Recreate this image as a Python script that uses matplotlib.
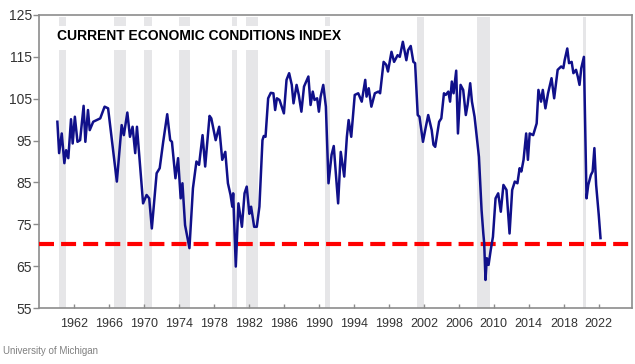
import matplotlib
matplotlib.use("Agg")
import matplotlib.pyplot as plt

# ==========================
# Data
# ==========================

years = [
    1960.1, 1960.3, 1960.6, 1960.9, 1961.1, 1961.35, 1961.66, 1961.85, 1962.1, 1962.4,
    1962.7, 1963.1, 1963.3, 1963.6, 1963.8, 1964.2, 1965.0, 1965.5, 1965.9, 1966.9,
    1967.45, 1967.7, 1968.1, 1968.4, 1968.7, 1969.0, 1969.2, 1969.9, 1970.3, 1970.6,
    1970.9, 1971.45, 1971.8, 1972.2, 1972.66, 1973.0, 1973.2, 1973.6, 1973.9, 1974.2,
    1974.4, 1974.7, 1975.2, 1975.6, 1976.0, 1976.3, 1976.7, 1977.0, 1977.5, 1977.7,
    1978.2, 1978.6, 1978.95, 1979.3, 1979.6, 1979.9, 1980.1, 1980.2, 1980.5, 1980.8,
    1981.2, 1981.5, 1981.75, 1982.05, 1982.25, 1982.6, 1982.9, 1983.2, 1983.55, 1983.7,
    1983.9, 1984.2, 1984.5, 1984.8, 1985.0, 1985.2, 1985.5, 1986.0, 1986.3, 1986.6,
    1986.9, 1987.1, 1987.45, 1987.7, 1988.0, 1988.3, 1988.8, 1989.05, 1989.3, 1989.5,
    1989.8, 1990.0, 1990.2, 1990.5, 1990.8, 1991.1, 1991.45, 1991.7, 1992.2, 1992.5,
    1992.9, 1993.2, 1993.4, 1993.7, 1994.1, 1994.5, 1994.9, 1995.3, 1995.45, 1995.7,
    1996.0, 1996.4, 1996.8, 1997.0, 1997.4, 1997.7, 1997.9, 1998.3, 1998.6, 1999.0,
    1999.25, 1999.6, 2000.0, 2000.2, 2000.5, 2000.8, 2001.0, 2001.3, 2001.5, 2001.9,
    2002.2, 2002.5, 2002.9, 2003.1, 2003.3, 2003.75, 2004.0, 2004.3, 2004.5, 2004.8,
    2005.0, 2005.2, 2005.4, 2005.7, 2005.9, 2006.2, 2006.5, 2006.8, 2007.0, 2007.3,
    2007.5, 2007.8, 2008.3, 2008.6, 2008.8, 2008.9, 2009.05, 2009.2, 2009.4, 2009.65,
    2009.9, 2010.2, 2010.5, 2010.8, 2011.1, 2011.45, 2011.8, 2012.1, 2012.4, 2012.7,
    2012.95, 2013.15, 2013.4, 2013.7, 2013.9, 2014.1, 2014.5, 2014.9, 2015.1, 2015.4,
    2015.6, 2015.9, 2016.2, 2016.6, 2016.9, 2017.3, 2017.7, 2017.95, 2018.1, 2018.4,
    2018.6, 2018.9, 2019.1, 2019.4, 2019.6, 2019.8, 2020.0, 2020.3, 2020.6, 2020.8,
    2021.1, 2021.3, 2021.5, 2021.7, 2022.0, 2022.2,
]

index_values = [
    99.5, 92.0, 96.7, 89.6, 92.7, 90.8, 100.1, 94.3, 100.7, 94.7,
    95.1, 103.3, 94.7, 102.3, 97.5, 99.5, 100.3, 103.1, 102.7, 85.2,
    98.7, 96.3, 101.7, 95.9, 98.3, 92.0, 98.3, 80.0, 82.0, 81.2,
    74.0, 87.2, 88.4, 94.7, 101.3, 95.1, 94.7, 86.0, 90.8, 81.2,
    84.8, 74.8, 69.3, 83.6, 90.0, 89.2, 96.3, 88.8, 100.9, 100.3,
    95.1, 98.3, 90.4, 92.3, 84.8, 82.0, 79.2, 82.4, 64.9, 80.0,
    74.4, 82.4, 84.0, 77.5, 79.2, 74.4, 74.4, 79.2, 95.1, 96.1,
    95.9, 105.1, 106.4, 106.3, 102.3, 105.1, 104.7, 101.5, 109.5, 111.1,
    108.3, 103.9, 108.3, 105.9, 101.9, 107.9, 110.3, 103.5, 106.7, 104.7,
    105.1, 101.9, 105.5, 108.3, 103.1, 84.8, 91.6, 93.7, 80.0, 92.3,
    86.4, 95.9, 99.9, 95.9, 105.9, 106.3, 104.3, 109.5, 105.5, 107.5,
    103.1, 106.3, 106.7, 106.3, 113.8, 113.1, 111.5, 116.2, 113.8, 115.4,
    115.0, 118.6, 114.2, 116.6, 117.6, 113.8, 113.5, 101.1, 100.7, 94.7,
    98.0, 101.1, 97.5, 94.0, 93.5, 99.5, 100.3, 106.3, 105.9, 106.7,
    104.3, 109.1, 106.3, 111.7, 96.7, 108.3, 107.1, 101.1, 103.5, 108.7,
    104.3, 100.7, 91.1, 78.4, 72.8, 70.5, 61.7, 66.9, 65.3, 68.9,
    72.0, 81.2, 82.4, 78.0, 84.4, 83.2, 72.8, 83.2, 85.2, 84.8,
    88.4, 87.6, 90.4, 96.7, 90.4, 96.7, 96.3, 99.1, 107.1, 104.3,
    107.1, 102.7, 106.3, 109.9, 105.1, 111.9, 112.7, 112.3, 114.2, 117.0,
    113.5, 113.8, 111.1, 111.9, 110.3, 108.3, 112.3, 115.0, 81.2, 84.4,
    86.8, 87.6, 93.2, 84.4, 77.2, 71.7,
]

# recession shading (start, end)
recessions = [
    (1960.3, 1961.1), (1966.6, 1967.9), (1970.0, 1970.9), (1974.0, 1975.3),
    (1980.1, 1980.6), (1981.7, 1983.0), (1990.7, 1991.3), (2001.2, 2002.0),
    (2008.1, 2009.6), (2020.2, 2020.5),
]

threshold = 70.4
x_ticks = list(range(1962, 2023, 4))
y_ticks = list(range(55, 126, 10))

# ==========================
# Plot
# ==========================

plt.rcParams['font.family'] = ['Liberation Sans', 'DejaVu Sans']

fig = plt.figure(figsize=(6.35, 3.64), dpi=100)
ax = fig.add_axes([39 / 635, 56 / 364, 593 / 635, 293 / 364])

for start, end in recessions:
    ax.axvspan(start, end, ymin=0, ymax=0.993, color='#e6e6e8', lw=0, zorder=1)

# white box behind the title cuts the shading
ax.add_patch(plt.Rectangle((0.01, 0.88), 0.53, 0.083, transform=ax.transAxes,
                           facecolor='white', edgecolor='none', zorder=2))
ax.text(0.03, 0.928, 'CURRENT ECONOMIC CONDITIONS INDEX', transform=ax.transAxes,
        fontsize=10, fontweight='bold', color='black', va='center', ha='left', zorder=3)

ax.axhline(threshold, color='#ff0000', lw=3, ls=(0, (3.6, 1.7)), zorder=3)
ax.plot(years, index_values, color='#10108a', lw=1.8, zorder=4)

ax.set_xlim(1958, 2025.8)
ax.set_ylim(55, 125)
ax.set_xticks(x_ticks)
ax.set_yticks(y_ticks)

for side in ['left', 'right', 'top', 'bottom']:
    ax.spines[side].set_color('#8c8c8c')
    ax.spines[side].set_linewidth(1.2)

ax.tick_params(axis='x', direction='in', length=3, width=1, color='#8c8c8c',
               labelsize=9, labelcolor='#333333', pad=7)
ax.tick_params(axis='y', direction='out', length=4, width=1, color='#8c8c8c',
               labelsize=10, labelcolor='#333333', pad=1)

fig.text(3 / 635, 1 - 351 / 364, 'University of Michigan', fontsize=7, color='#808080',
         ha='left', va='center')

fig.savefig('out.png', dpi=100)
